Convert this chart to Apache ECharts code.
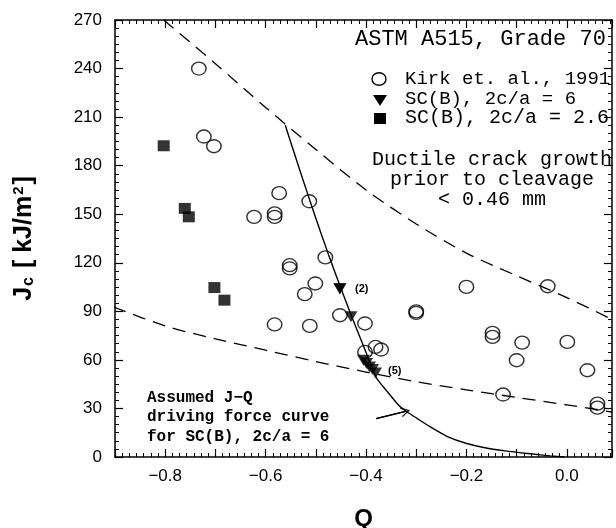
<!DOCTYPE html>
<html>
<head>
<meta charset="utf-8">
<script src="https://cdn.jsdelivr.net/npm/echarts@6/dist/echarts.min.js"></script>
<style>
  html, body { margin: 0; padding: 0; background: #fff; }
  #chart { width: 616px; height: 528px; }
</style>
</head>
<body>
<div id="chart"></div>
<script>
// Kirk et al. (1991) cleavage data: constraint parameter Q vs. Jc [kJ/m^2]
const kirkQ = [-0.733, -0.723, -0.703, -0.573, -0.513, -0.623, -0.582, -0.582, -0.481,
  -0.552, -0.552, -0.501, -0.522, -0.452, -0.402, -0.582, -0.512, -0.300, -0.300,
  -0.200, -0.038, -0.148, -0.148, -0.089, 0.001, -0.402, -0.381, -0.370, -0.100,
  0.041, -0.127, 0.061, 0.061];
const kirkJ = [240, 198, 192, 163, 158, 148.4, 150.5, 148.4, 123.3,
  118.5, 116.5, 107.2, 100.6, 87.6, 82.5, 81.9, 81.0, 90.0, 89.0,
  105.1, 105.5, 76.7, 74.2, 70.7, 71.1, 64.9, 68.0, 66.4, 59.8,
  53.6, 38.6, 33.0, 30.5];

// Surface crack SC(B), 2c/a = 6 (two coincident points at the "(2)" mark, five at "(5)")
const scB6Q = [-0.452, -0.452, -0.430, -0.405, -0.399, -0.393, -0.387, -0.381];
const scB6J = [104.0, 104.0, 86.6, 59.8, 57.7, 55.6, 54.0, 51.9];

// Surface crack SC(B), 2c/a = 2.6
const scB26Q = [-0.803, -0.761, -0.753, -0.702, -0.682];
const scB26J = [192.3, 153.6, 148.4, 104.7, 96.9];

// Upper and lower bounds of the Kirk scatter band (dashed)
const upperQ = [-0.803, -0.700, -0.600, -0.500, -0.400, -0.300, -0.200, -0.100, 0.000, 0.090];
const upperJ = [270.0, 243.0, 216.0, 190.0, 165.0, 144.0, 126.0, 112.0, 98.5, 85.0];
const lowerQ = [-0.903, -0.800, -0.700, -0.600, -0.500, -0.400, -0.300, -0.200, -0.100, 0.000, 0.090];
const lowerJ = [92.7, 81.0, 73.0, 66.0, 59.0, 52.5, 46.5, 41.5, 36.8, 32.2, 27.8];

// Assumed J-Q driving force curve for SC(B), 2c/a = 6
const driveQ = [-0.561, -0.532, -0.502, -0.473, -0.450, -0.428, -0.404, -0.380, -0.355,
  -0.335, -0.320, -0.297, -0.271, -0.239, -0.201, -0.163, -0.123, -0.073, -0.033, -0.005];
const driveJ = [205.1, 177.3, 149.4, 123.5, 104.3, 86.4, 67.8, 49.3, 39.4,
  32.0, 28.3, 23.6, 18.4, 12.8, 8.5, 5.7, 3.8, 2.0, 0.7, 0.0];

// Pointer arrow towards the driving force curve
const arrowQ = [-0.380, -0.321];
const arrowJ = [23.7, 28.2];

// Axis ranges and tick labels
const qRange = [-0.9, 0.09];
const jRange = [0, 270];
const qTickLabels = [-0.8, -0.6, -0.4, -0.2, 0.0];

const zip = (xs, ys) => xs.map((x, i) => [x, ys[i]]);

const mono = '"Liberation Mono", "DejaVu Sans Mono", monospace';
const sans = '"Liberation Sans", Arial, sans-serif';
const ink = '#000';

function qLabel(v) {
  const hit = qTickLabels.find(t => Math.abs(t - v) < 1e-6);
  if (hit === undefined) return '';
  return hit.toFixed(1).replace('-', '\u2212');
}

const frameLine = { show: true, onZero: false, lineStyle: { color: ink, width: 1.5 } };
const tickIn = { show: true, inside: true, length: 8, lineStyle: { color: ink, width: 1.2 } };
const minorX = { show: true, splitNumber: 7, length: 4, lineStyle: { color: ink, width: 1 } };
const minorY = { show: true, splitNumber: 6, length: 4, lineStyle: { color: ink, width: 1 } };

const chart = echarts.init(document.getElementById('chart'), null, { renderer: 'canvas' });

chart.setOption({
  backgroundColor: '#fff',
  animation: false,
  grid: { left: 115, right: 4, top: 20, bottom: 71, containLabel: false, outerBoundsMode: 'none' },
  xAxis: [
    {
      type: 'value', position: 'bottom', min: qRange[0], max: qRange[1], interval: 0.1,
      axisLine: frameLine, axisTick: tickIn, minorTick: minorX,
      splitLine: { show: false },
      axisLabel: { formatter: qLabel, color: ink, fontSize: 17, fontFamily: sans, margin: 11,
        showMinLabel: true, showMaxLabel: true },
      name: 'Q', nameLocation: 'middle', nameGap: 50,
      nameTextStyle: { color: ink, fontSize: 24, fontWeight: 'bold', fontFamily: sans }
    },
    {
      type: 'value', position: 'top', min: qRange[0], max: qRange[1], interval: 0.1,
      axisLine: frameLine, axisTick: tickIn, minorTick: minorX,
      splitLine: { show: false }, axisLabel: { show: false }
    }
  ],
  yAxis: [
    {
      type: 'value', position: 'left', min: jRange[0], max: jRange[1], interval: 30,
      axisLine: frameLine, axisTick: tickIn, minorTick: minorY,
      splitLine: { show: false },
      axisLabel: { color: ink, fontSize: 17, fontFamily: sans, margin: 13 },
      name: '{j|J}{s|c}{j| [ kJ/m}{p|2}{j|]}',
      nameLocation: 'middle', nameGap: 78, nameRotate: 90,
      nameTextStyle: {
        color: ink, padding: [0, 0, 0, 0],
        rich: {
          j: { fontSize: 25, fontWeight: 'bold', fontFamily: sans, color: ink },
          s: { fontSize: 16, fontWeight: 'bold', fontFamily: sans, color: ink,
               verticalAlign: 'bottom', padding: [10, 2, 0, 1] },
          p: { fontSize: 15, fontWeight: 'bold', fontFamily: sans, color: ink,
               verticalAlign: 'top', padding: [0, 2, 9, 1] }
        }
      }
    },
    {
      type: 'value', position: 'right', min: jRange[0], max: jRange[1], interval: 30,
      axisLine: frameLine, axisTick: tickIn, minorTick: minorY,
      splitLine: { show: false }, axisLabel: { show: false }
    }
  ],
  series: [
    {
      name: 'upper bound', type: 'line', data: zip(upperQ, upperJ), smooth: 0.3,
      showSymbol: false, symbol: 'none', silent: true,
      lineStyle: { color: ink, width: 1.3, type: [13, 8] }
    },
    {
      name: 'lower bound', type: 'line', data: zip(lowerQ, lowerJ), smooth: 0.3,
      showSymbol: false, symbol: 'none', silent: true,
      lineStyle: { color: ink, width: 1.3, type: [13, 8] }
    },
    {
      name: 'driving force', type: 'line', data: zip(driveQ, driveJ), smooth: 0.2,
      showSymbol: false, symbol: 'none', silent: true,
      lineStyle: { color: ink, width: 1.4 }
    },
    {
      name: 'pointer', type: 'line', data: zip(arrowQ, arrowJ),
      showSymbol: false, symbol: 'none', silent: true,
      lineStyle: { color: ink, width: 1.1 },
      markLine: {
        silent: true, animation: false,
        symbol: ['none', 'path://M0,10 L5,0 L10,10 L8.6,10 L5,2.6 L1.4,10 Z'],
        symbolSize: [10, 9],
        label: { show: false },
        lineStyle: { color: ink, width: 1.1, type: 'solid' },
        data: [[{ coord: [arrowQ[0], arrowJ[0]] }, { coord: [arrowQ[1], arrowJ[1]] }]]
      }
    },
    {
      name: 'Kirk et. al., 1991', type: 'scatter', data: zip(kirkQ, kirkJ),
      symbol: 'circle', symbolSize: [14.5, 13],
      itemStyle: { color: 'rgba(0,0,0,0)', borderColor: ink, borderWidth: 1.4 }
    },
    {
      name: 'SC(B), 2c/a = 6', type: 'scatter', data: zip(scB6Q, scB6J),
      symbol: 'triangle', symbolRotate: 180, symbolSize: [13, 11],
      itemStyle: { color: ink }
    },
    {
      name: 'SC(B), 2c/a = 2.6', type: 'scatter', data: zip(scB26Q, scB26J),
      symbol: 'rect', symbolSize: [12, 11],
      itemStyle: { color: ink }
    }
  ],
  graphic: [
    // heading
    { type: 'text', left: 355, top: 28, z: 10,
      style: { text: 'ASTM A515, Grade 70', font: '22px ' + mono, fill: ink } },
    // key
    { type: 'ellipse', z: 10, shape: { cx: 379, cy: 79, rx: 7, ry: 6.3 },
      style: { fill: 'none', stroke: ink, lineWidth: 1.4 } },
    { type: 'polygon', z: 10, shape: { points: [[373, 95], [387, 95], [380, 106]] },
      style: { fill: ink } },
    { type: 'rect', z: 10, shape: { x: 374, y: 113, width: 12, height: 11 },
      style: { fill: ink } },
    { type: 'text', left: 405, top: 69, z: 10,
      style: { text: 'Kirk et. al., 1991', font: '19px ' + mono, fill: ink } },
    { type: 'text', left: 405, top: 89, z: 10,
      style: { text: 'SC(B), 2c/a = 6', font: '19px ' + mono, fill: ink } },
    { type: 'text', left: 405, top: 108, z: 10,
      style: { text: 'SC(B), 2c/a = 2.6', font: '20px ' + mono, fill: ink } },
    // ductile tearing note
    { type: 'text', x: 492, y: 160, z: 10,
      style: { text: 'Ductile crack growth', font: '20px ' + mono, fill: ink,
               align: 'center', verticalAlign: 'middle' } },
    { type: 'text', x: 492, y: 180, z: 10,
      style: { text: 'prior to cleavage', font: '20px ' + mono, fill: ink,
               align: 'center', verticalAlign: 'middle' } },
    { type: 'text', x: 492, y: 200, z: 10,
      style: { text: '< 0.46 mm', font: '20px ' + mono, fill: ink,
               align: 'center', verticalAlign: 'middle' } },
    // driving force note
    { type: 'text', x: 147, y: 398, z: 10,
      style: { text: 'Assumed J\u2212Q', font: 'bold 16px ' + mono, fill: ink, verticalAlign: 'middle' } },
    { type: 'text', x: 147, y: 417, z: 10,
      style: { text: 'driving force curve', font: 'bold 16px ' + mono, fill: ink, verticalAlign: 'middle' } },
    { type: 'text', x: 147, y: 437, z: 10,
      style: { text: 'for SC(B), 2c/a = 6', font: 'bold 16px ' + mono, fill: ink, verticalAlign: 'middle' } },
    // point multiplicity tags
    { type: 'text', x: 355, y: 289, z: 10,
      style: { text: '(2)', font: 'bold 11px ' + sans, fill: ink, verticalAlign: 'middle' } },
    { type: 'text', x: 388, y: 371, z: 10,
      style: { text: '(5)', font: 'bold 11px ' + sans, fill: ink, verticalAlign: 'middle' } }
  ]
});
</script>
</body>
</html>
